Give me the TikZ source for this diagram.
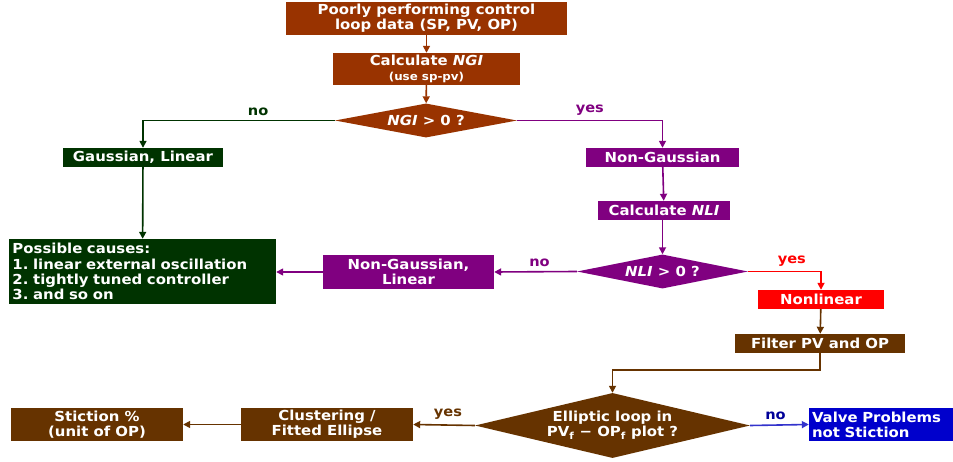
\documentclass[tikz,border=0pt]{standalone}
\usepackage{fontspec}
\setmainfont{DejaVu Sans}[FakeStretch=1.08]
\usetikzlibrary{arrows.meta, shapes.geometric, positioning}
\definecolor{fcRust}{HTML}{993300}
\definecolor{fcGreen}{HTML}{003300}
\definecolor{fcPurple}{HTML}{800080}
\definecolor{fcRed}{HTML}{FF0000}
\definecolor{fcBrown}{HTML}{663300}
\definecolor{fcBlue}{HTML}{0000CC}
\definecolor{fcBlueLine}{HTML}{3333CC}
\definecolor{fcNavy}{HTML}{000099}
\tikzset{
  box/.style      = {rectangle, draw=none, text=white, inner sep=0pt, align=center,
                     font=\fontsize{13.8}{15.2}\selectfont\bfseries\frenchspacing},
  decision/.style = {diamond, draw=none, text=white, inner sep=0pt, align=center,
                     font=\fontsize{13.8}{15.2}\selectfont\bfseries},
  flow/.style     = {-{Triangle[length=7pt, width=7pt]}, line width=1.6pt},
  lbl/.style      = {font=\fontsize{13.5}{14}\selectfont\bfseries, above=1pt},
}

\begin{document}
\begin{tikzpicture}[x=1pt, y=-1pt]
  \useasboundingbox (0,0) rectangle (953,462);
  % top of the chart
  \node[box, fill=fcRust, minimum width=281, minimum height=33] (data) at (426.5,18.5)
    {Poorly performing control\\loop data (SP, PV, OP)};
  \node[box, fill=fcRust, minimum width=187, minimum height=32] (ngi) at (426.5,69)
    {Calculate \textit{NGI}\\{\fontsize{11}{13}\selectfont (use sp-pv)}};
  \node[decision, fill=fcRust, aspect=5.4, minimum width=182, minimum height=34] (qngi) at (426,120.5)
    {\textit{NGI} > 0 ?};
  % gaussian branch
  \node[box, fill=fcGreen, minimum width=160, minimum height=19] (gauss) at (143,157.5)
    {Gaussian, Linear};
  \node[box, fill=fcGreen, minimum width=267, minimum height=65, align=left,
        text width=260, inner xsep=3.5pt] (causes) at (142.5,271.5)
    {Possible causes:\\1. linear external oscillation\\2. tightly tuned controller\\3. and so on};
  % non-gaussian branch
  \node[box, fill=fcPurple, minimum width=153, minimum height=19] (nongauss) at (662.5,157.5)
    {Non-Gaussian};
  \node[box, fill=fcPurple, minimum width=132, minimum height=19] (nli) at (664,210.5)
    {Calculate \textit{NLI}};
  \node[decision, fill=fcPurple, aspect=5.1, minimum width=171, minimum height=34] (qnli) at (662.5,271.5)
    {\textit{NLI} > 0 ?};
  \node[box, fill=fcPurple, minimum width=171, minimum height=34] (ngl) at (408.5,272)
    {Non-Gaussian,\\Linear};
  \node[box, fill=fcRed, minimum width=126, minimum height=19] (nonlin) at (821,299.5)
    {Nonlinear};
  \node[box, fill=fcBrown, minimum width=170, minimum height=19] (filter) at (820,343.5)
    {Filter PV and OP};
  % bottom row
  \node[decision, fill=fcBrown, aspect=4.2, minimum width=275, minimum height=65] (qell) at (612.5,425.5)
    {Elliptic loop in\\PV\textsubscript{f} − OP\textsubscript{f} plot ?};
  \node[box, fill=fcBrown, minimum width=172, minimum height=33] (clust) at (327,424.5)
    {Clustering /\\Fitted Ellipse};
  \node[box, fill=fcBrown, minimum width=172, minimum height=33] (stic) at (97,424.5)
    {Stiction \%\\(unit of OP)};
  \node[box, fill=fcBlue, minimum width=144, minimum height=33, align=left,
        text width=138, inner xsep=3pt] (valve) at (881,424.5)
    {Valve Problems\\not Stiction};

  \draw[flow, fcRust] (data) -- (ngi);
  \draw[flow, fcRust] (ngi) -- (qngi);
  \draw[flow, fcGreen] (qngi.west) -| (gauss.north) node[lbl, pos=0.2, text=fcGreen] {no};
  \draw[flow, fcPurple] (qngi.east) -| (nongauss.north) node[lbl, pos=0.25, text=fcPurple] {yes};
  \draw[flow, fcGreen] (gauss) -- (causes);
  \draw[flow, fcPurple] (nongauss) -- (nli);
  \draw[flow, fcPurple] (nli.south -| qnli.north) -- (qnli.north);
  \draw[flow, fcPurple] (qnli.west) -- (ngl.east) node[lbl, midway, xshift=4pt, text=fcPurple] {no};
  \draw[flow, fcPurple] (ngl.west) -- (causes.east |- ngl.west);
  \draw[flow, fcRed] (qnli.east) -| (nonlin.north) node[lbl, pos=0.3, text=fcRed] {yes};
  \draw[flow, fcBrown] (nonlin) -- (filter);
  \draw[flow, fcBrown] (filter.south) -- ++(0,17) -| (qell.north);
  \draw[flow, fcBrown] (qell.west) -- (clust.east) node[lbl, midway, xshift=4pt, text=fcBrown] {yes};
  \draw[flow, fcBrown] (clust) -- (stic);
  \draw[flow, fcBlueLine] (qell.east) -- (valve.west) node[lbl, midway, xshift=-4pt, text=fcNavy] {no};
\end{tikzpicture}
\end{document}
